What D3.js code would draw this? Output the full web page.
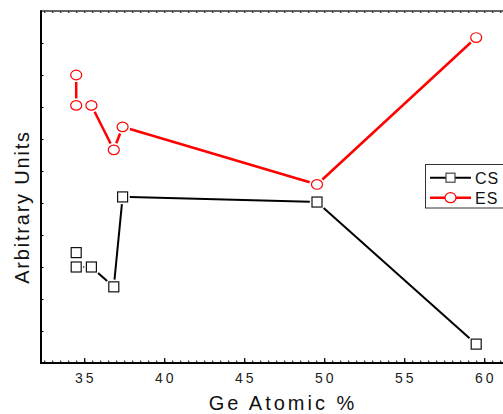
<!DOCTYPE html>
<html>
<head>
<meta charset="utf-8">
<script src="https://cdn.jsdelivr.net/npm/d3@7"></script>
<style>
  body { margin: 0; background: #fff; }
  svg { display: block; font-family: "Liberation Sans", Arial, sans-serif; }
</style>
</head>
<body>
<svg></svg>
<script>
// values
var geAtomic = [34.5, 34.5, 35.45, 36.85, 37.4, 49.55, 59.5],
    csValues = [3.45, 3.0, 3.0, 2.38, 5.19, 5.03, 0.59],
    esValues = [9.0, 8.05, 8.05, 6.66, 7.38, 5.58, 10.17],
    xTickLabels = [35, 40, 45, 50, 55, 60],
    seriesNames = ["CS", "ES"];

var width = 503,
    height = 414,
    margin = {top: 11, left: 41, bottom: 51},
    svg = d3.select("svg").attr("width", width).attr("height", height),
    x = d3.scaleLinear().domain([32.3, 62]).range([margin.left, margin.left + 29.7 * 16]),
    y = d3.scaleLinear().domain([0, 11]).range([height - margin.bottom, margin.top]),
    gap = 2.2;

var series = [
  {name: seriesNames[0], values: csValues, color: "#000", shape: "square", lw: 2},
  {name: seriesNames[1], values: esValues, color: "#ff0000", shape: "circle", lw: 2.5}
];

// marker extent along a direction (Origin leaves a gap between line and symbol)
function extent(shape, c, s) {
  if (shape == "square") return 5 / Math.max(Math.abs(c), Math.abs(s));
  return 1 / Math.sqrt(Math.pow(c / 5.5, 2) + Math.pow(s / 4.8, 2));
}

// axes
var bottomAxis = svg.append("g").attr("transform", "translate(0," + y(0) + ")");
bottomAxis.call(d3.axisBottom(x).tickValues(d3.range(32.5, 62, 0.5)).tickSize(-2.5).tickFormat(""));
bottomAxis.call(function(g) {
  g.select(".domain").remove();
  g.selectAll(".tick line").attr("stroke", "#000").attr("stroke-width", 1);
});
bottomAxis.append("g")
    .call(d3.axisBottom(x).tickValues(xTickLabels).tickSize(-5).tickFormat(""))
    .call(function(g) { g.select(".domain").remove(); g.selectAll(".tick line").attr("stroke-width", 1.2); });

svg.append("g").selectAll("text")
    .data(xTickLabels)
    .enter().append("text")
    .attr("x", function(d) { return x(d) + 1.5; })
    .attr("y", y(0) + 20)
    .attr("text-anchor", "middle")
    .style("font-size", "14px")
    .style("letter-spacing", "3px")
    .attr("fill", "#222")
    .text(function(d) { return d; });

var topAxis = svg.append("g").attr("transform", "translate(0," + y(11) + ")");
topAxis.call(d3.axisTop(x).tickValues(d3.range(32.5, 62, 0.5)).tickSize(-2).tickFormat(""));
topAxis.call(function(g) {
  g.select(".domain").remove();
  g.selectAll(".tick line").attr("stroke", "#444").attr("stroke-width", 1.5);
});

var leftAxis = svg.append("g").attr("transform", "translate(" + x.range()[0] + ",0)");
leftAxis.call(d3.axisLeft(y).tickValues(d3.range(1, 11)).tickSize(-2.5).tickFormat(""));
leftAxis.call(function(g) {
  g.select(".domain").remove();
  g.selectAll(".tick line").attr("stroke", "#000").attr("stroke-width", 1);
});

svg.append("line")
    .attr("x1", margin.left).attr("x2", width)
    .attr("y1", y(11)).attr("y2", y(11))
    .attr("stroke", "#333").attr("stroke-width", 1.5);
svg.append("line")
    .attr("x1", margin.left).attr("x2", width)
    .attr("y1", y(0)).attr("y2", y(0))
    .attr("stroke", "#000").attr("stroke-width", 2);
svg.append("line")
    .attr("x1", margin.left).attr("x2", margin.left)
    .attr("y1", y(11) - 0.75).attr("y2", y(0) + 1)
    .attr("stroke", "#000").attr("stroke-width", 2);

// axis titles
svg.append("text")
    .attr("x", 283)
    .attr("y", 410)
    .attr("text-anchor", "middle")
    .style("font-size", "20px")
    .style("letter-spacing", "3px")
    .attr("fill", "#111")
    .text("Ge Atomic %");

svg.append("text")
    .attr("transform", "translate(29,207) rotate(-90)")
    .attr("text-anchor", "middle")
    .style("font-size", "20px")
    .style("letter-spacing", "1.8px")
    .attr("fill", "#111")
    .text("Arbitrary Units");

// series
series.forEach(function(s) {
  var pts = s.values.map(function(v, i) { return [x(geAtomic[i]), y(v)]; });
  var g = svg.append("g");
  for (var i = 0; i < pts.length - 1; i++) {
    var dx = pts[i + 1][0] - pts[i][0], dy = pts[i + 1][1] - pts[i][1],
        L = Math.sqrt(dx * dx + dy * dy), c = dx / L, sn = dy / L,
        cut = extent(s.shape, c, sn) + gap;
    if (L - 2 * cut <= 0) continue;
    g.append("line")
        .attr("x1", pts[i][0] + c * cut).attr("y1", pts[i][1] + sn * cut)
        .attr("x2", pts[i + 1][0] - c * cut).attr("y2", pts[i + 1][1] - sn * cut)
        .attr("stroke", s.color)
        .attr("stroke-width", s.lw);
  }
  drawMarkers(g, pts, s);
});

function drawMarkers(g, pts, s) {
  if (s.shape == "square") {
    g.selectAll("rect").data(pts).enter().append("rect")
        .attr("x", function(d) { return d[0] - 5; })
        .attr("y", function(d) { return d[1] - 5; })
        .attr("width", 10).attr("height", 10)
        .attr("fill", "#fff").attr("stroke", "#111").attr("stroke-width", 1.2);
  } else {
    g.selectAll("ellipse").data(pts).enter().append("ellipse")
        .attr("cx", function(d) { return d[0]; })
        .attr("cy", function(d) { return d[1]; })
        .attr("rx", 5.5).attr("ry", 4.8)
        .attr("fill", "#fff").attr("stroke", s.color).attr("stroke-width", 1.2);
  }
}

// legend
var legend = svg.append("g");
legend.append("rect")
    .attr("x", 425.5).attr("y", 164.5)
    .attr("width", 100).attr("height", 43.5)
    .attr("fill", "#fff").attr("stroke", "#333").attr("stroke-width", 1);

var item = legend.selectAll(".legend")
    .data(series)
    .enter().append("g")
    .attr("class", "legend")
    .attr("transform", function(d, i) { return "translate(0," + (177.7 + i * 20) + ")"; });

item.append("line")
    .attr("x1", 430).attr("x2", 471)
    .attr("stroke", function(d) { return d.color; })
    .attr("stroke-width", function(d) { return d.lw; });

item.each(function(d) {
  var g = d3.select(this);
  if (d.shape == "square") {
    g.append("rect").attr("x", 446).attr("y", -4.5).attr("width", 9).attr("height", 9)
        .attr("fill", "#fff").attr("stroke", "#444").attr("stroke-width", 1.2);
  } else {
    g.append("ellipse").attr("cx", 450.5).attr("cy", 0).attr("rx", 5.5).attr("ry", 5)
        .attr("fill", "#fff").attr("stroke", d.color).attr("stroke-width", 1.2);
  }
});

item.append("text")
    .attr("x", 475)
    .attr("y", 6)
    .style("font-size", "16px")
    .style("letter-spacing", "1px")
    .attr("fill", "#111")
    .text(function(d) { return d.name; });
</script>
</body>
</html>
